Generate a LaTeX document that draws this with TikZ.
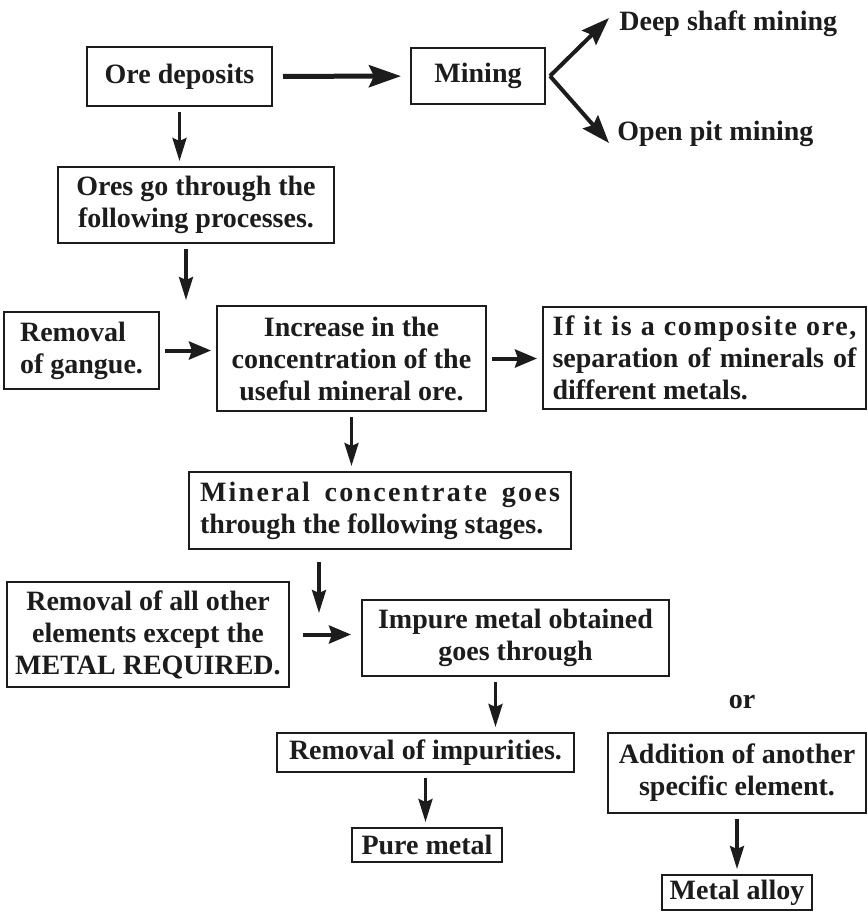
\documentclass[tikz,border=0pt]{standalone}
\usepackage{fontspec}
\setmainfont{Liberation Serif}
\usepackage{tikz}
\usetikzlibrary{arrows.meta}
\definecolor{cInk}{HTML}{1C1C1C}
\tikzset{
  txt/.style      = {font=\fontsize{14}{16}\selectfont\bfseries, text=cInk},
  box/.style      = {txt, draw=cInk, line width=1pt, align=center,
                     inner xsep=3pt, inner ysep=2pt},
  lbl/.style      = {txt, inner sep=0pt},
  flow/.style     = {-{Stealth[length=11.5pt,width=7pt,inset=1.5pt]},
                     line width=1.6pt, draw=cInk,
                     shorten <=2.5pt, shorten >=2.5pt},
  sideflow/.style = {flow, -{Stealth[length=11pt,width=9pt,inset=1.5pt]},
                     line width=2pt},
  bigflow/.style  = {flow, -{Stealth[length=16pt,width=11pt,inset=2.5pt]},
                     line width=2.5pt, shorten <=5pt, shorten >=4.5pt},
  fork/.style     = {flow, -{Stealth[length=14pt,width=10pt,inset=2pt]},
                     line width=2pt, shorten <=0pt, shorten >=0pt},
}

\begin{document}
\begin{tikzpicture}[x=0.5pt, y=-0.5pt]
  \useasboundingbox (0,0) rectangle (868,912);
  % mining
  \node[box, minimum width=92.5pt, minimum height=29.5pt] (ore) at (179.5,76.5)
    {Ore deposits};
  \node[box, minimum width=67pt, minimum height=28pt] (mining) at (478,76)
    {Mining};
  \node[lbl, anchor=west] (deep) at (619,24) {Deep shaft mining};
  \node[lbl, anchor=west] (open) at (617,134) {Open pit mining};
  % concentration
  \node[box, minimum width=138pt, minimum height=38pt] (ores) at (196,205)
    {Ores go through the\\ following processes.};
  \node[box, align=left, inner xsep=8pt, minimum width=76.5pt,
        minimum height=38.5pt] (gangue) at (81.5,350.5)
    {Removal\\ of gangue.};
  \node[box, minimum width=134.5pt, minimum height=52.5pt] (incr) at (351.5,358.5)
    {Increase in the\\ concentration of the\\ useful mineral ore.};
  \node[box, align=justify, text width=152pt, inner xsep=4.75pt,
        minimum height=51pt] (comp) at (704.5,358)
    {{\addfontfeature{LetterSpace=6}If it is a composite ore,}\linebreak
     separation of minerals of\linebreak different metals.};
  \node[box, align=justify, text width=180pt, inner xsep=5.5pt,
        minimum height=38.5pt] (minc) at (380,510.5)
    {\parfillskip=0pt {\addfontfeature{LetterSpace=8}Mineral concentrate goes}\linebreak
     through the following stages.};
  % extraction
  \node[box, minimum width=141pt, minimum height=52.5pt] (remall) at (148,634.5)
    {Removal of all other\\ elements except the\\ METAL REQUIRED.};
  \node[box, minimum width=153.5pt, minimum height=38pt] (impure) at (515.5,638)
    {Impure metal obtained\\ goes through};
  \node[box, minimum width=148.5pt, minimum height=19.5pt] (remimp) at (425.5,752.5)
    {Removal of impurities.};
  \node[box, minimum width=75pt, minimum height=17pt] (pure) at (427,845)
    {Pure metal};
  \node[lbl] (orword) at (742,702) {or};
  \node[box, minimum width=129pt, minimum height=40pt] (addn) at (737,773)
    {Addition of another\\ specific element.};
  \node[box, minimum width=75pt, minimum height=17.5pt] (alloy) at (737,892.5)
    {Metal alloy};
  % free arrow ends
  \coordinate (gap1) at (186,305);
  \coordinate (gap2) at (319,618);
  \coordinate (apex) at ([xshift=2pt]mining.east);
  % flows
  \draw[bigflow] (ore) -- (mining);
  \draw[fork] (apex) -- ([xshift=-5pt,yshift=3pt]deep.west);
  \draw[fork] (apex) -- ([xshift=-4pt,yshift=-4.5pt]open.west);
  \draw[flow] (ore.south) -- (ore.south |- ores.north);
  \draw[flow] (ores.south -| gap1) -- (gap1);
  \draw[sideflow] (gangue.east) -- (gangue.east -| incr.west);
  \draw[sideflow] (incr.east) -- (incr.east -| comp.west);
  \draw[flow] (incr.south) -- (incr.south |- minc.north);
  \draw[flow, shorten <=6pt] (minc.south -| gap2) -- (gap2);
  \draw[sideflow, shorten <=6.5pt, shorten >=5pt] (remall.east) -- (remall.east -| impure.west);
  \draw[flow] ([xshift=-10pt]impure.south) -- ([xshift=-10pt]impure.south |- remimp.north);
  \draw[flow] (remimp.south) -- (remimp.south |- pure.north);
  \draw[flow] (addn.south) -- (addn.south |- alloy.north);
\end{tikzpicture}
\end{document}
